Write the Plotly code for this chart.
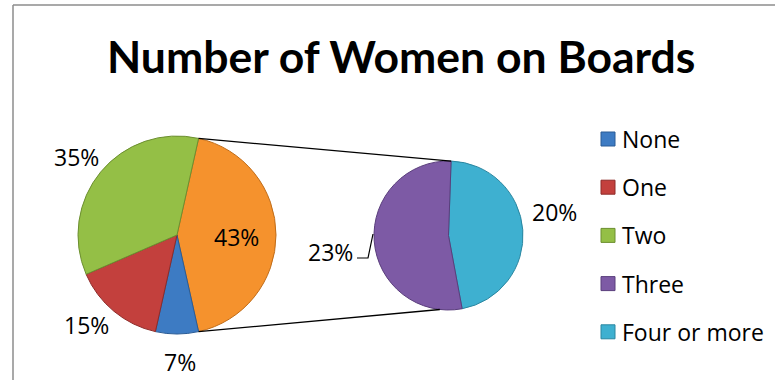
import math
import plotly.graph_objects as go

W, H = 775, 380

# Share of companies by number of women on the board (percent)
categories = ["None", "One", "Two", "Three", "Four or more"]
shares = [7, 15, 35, 23, 20]

# The last two categories are grouped into the primary pie and broken out in the secondary pie
n_split = 2
other_label = "Other"

palette = {
    "None": "#3D7BC3",
    "One": "#C3403D",
    "Two": "#94BF46",
    "Three": "#7D5AA5",
    "Four or more": "#3EB0D0",
    "Other": "#F5922D",
}
edge = {
    "None": "#2A5C96",
    "One": "#8E2B29",
    "Two": "#6C8F30",
    "Three": "#5A3E7C",
    "Four or more": "#2A86A0",
    "Other": "#C06C18",
}

TITLE_FONT = "Lato"
TEXT_FONT = "Open Sans"


def px(x):
    return x / W


def py(y):
    return 1 - y / H


def on_circle(cx, cy, r, deg):
    a = math.radians(deg)
    return cx + r * math.sin(a), cy - r * math.cos(a)


main_cats = categories[:-n_split]
main_vals = shares[:-n_split]
sub_cats = categories[-n_split:]
sub_vals = shares[-n_split:]
other_val = sum(sub_vals)

# primary pie geometry (pixels)
mcx, mcy, mr = 177, 235, 99
# secondary pie geometry (pixels)
scx, scy, sr = 448.5, 235.5, 74.5

p_labels = [other_label] + main_cats
p_values = [other_val] + main_vals
# centre the grouped slice on the 3 o'clock direction
p_rot = 90 - other_val / sum(p_values) * 360 / 2

s_labels = sub_cats[::-1]
s_values = sub_vals[::-1]
s_rot = 2

fig = go.Figure()
fig.add_trace(go.Pie(
    labels=p_labels, values=p_values, sort=False, direction="clockwise",
    rotation=p_rot, textinfo="none", hoverinfo="label+percent", showlegend=False,
    marker=dict(colors=[palette[l] for l in p_labels],
                line=dict(color=[edge[l] for l in p_labels], width=1)),
    domain=dict(x=[px(mcx - mr), px(mcx + mr)], y=[py(mcy + mr), py(mcy - mr)]),
))
fig.add_trace(go.Pie(
    labels=s_labels, values=s_values, sort=False, direction="clockwise",
    rotation=s_rot, textinfo="none", hoverinfo="label+value", showlegend=False,
    marker=dict(colors=[palette[l] for l in s_labels],
                line=dict(color=[edge[l] for l in s_labels], width=1)),
    domain=dict(x=[px(scx - sr), px(scx + sr)], y=[py(scy + sr), py(scy - sr)]),
))

shapes = []
# chart frame
shapes.append(dict(type="line", xref="paper", yref="paper", x0=px(13), y0=py(5), x1=px(13), y1=py(400),
                   line=dict(color="#8C8C8C", width=1.5)))
shapes.append(dict(type="line", xref="paper", yref="paper", x0=px(13), y0=py(5), x1=px(800), y1=py(5),
                   line=dict(color="#8C8C8C", width=1.5)))

# connector lines between the grouped slice and the secondary pie
a_top = p_rot
a_bot = p_rot + other_val / sum(p_values) * 360
for (ma, sa) in [(a_top, s_rot), (a_bot, 186.7)]:
    x0, y0 = on_circle(mcx, mcy, mr, ma)
    x1, y1 = on_circle(scx, scy, sr, sa)
    shapes.append(dict(type="line", xref="paper", yref="paper", x0=px(x0), y0=py(y0), x1=px(x1), y1=py(y1),
                       line=dict(color="black", width=1.3)))

# leader line for the "Three" label
shapes.append(dict(type="path", xref="paper", yref="paper",
                   path=f"M {px(357)} {py(258)} L {px(368)} {py(258)} L {px(373)} {py(234)}",
                   line=dict(color="black", width=1.2)))

annotations = []
annotations.append(dict(text="<b>Number of Women on Boards</b>", x=px(401), y=py(55), xref="paper", yref="paper",
                        showarrow=False, xanchor="center", yanchor="middle",
                        font=dict(family=TITLE_FONT, size=44.5, color="black")))

# data labels: percent of all companies
label_pos = {
    "Two": (76, 157),
    "One": (86, 325),
    "None": (180, 362),
    "Other": (237, 237),
    "Four or more": (554, 212),
    "Three": (330, 252),
}
label_vals = dict(zip(categories, shares))
label_vals[other_label] = other_val
for lab, (lx, ly) in label_pos.items():
    annotations.append(dict(text=f"{label_vals[lab]}%", x=px(lx), y=py(ly), xref="paper", yref="paper",
                            showarrow=False, xanchor="center", yanchor="middle",
                            font=dict(family=TEXT_FONT, size=23, color="black")))

# legend
leg_y0, leg_dy = 139, 48.2
for i, cat in enumerate(categories):
    cy = leg_y0 + i * leg_dy
    shapes.append(dict(type="rect", xref="paper", yref="paper",
                       x0=px(601), x1=px(615), y0=py(cy + 7), y1=py(cy - 7),
                       fillcolor=palette[cat], line=dict(color=edge[cat], width=1)))
    annotations.append(dict(text=cat, x=px(620), y=py(cy), xref="paper", yref="paper",
                            showarrow=False, xanchor="left", yanchor="middle",
                            font=dict(family=TEXT_FONT, size=23, color="black")))

fig.update_layout(
    width=W, height=H, margin=dict(l=0, r=0, t=0, b=0),
    paper_bgcolor="white", plot_bgcolor="white",
    shapes=shapes, annotations=annotations, showlegend=False,
)

fig.write_html("out.html")
